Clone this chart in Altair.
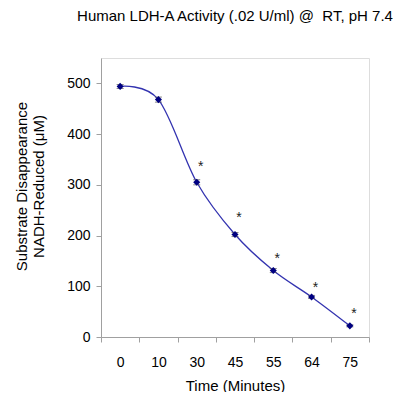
import altair as alt
import pandas as pd

times = ["0", "10", "30", "45", "55", "64", "75"]
nadh = [494, 468, 305, 202, 131, 79, 22]
err = [4, 5, 5, 4, 4, 3, 2]

star_times = ["30", "45", "55", "64", "75"]
star_y = [342, 240, 160, 102, 52]

df = pd.DataFrame({"t": times, "y": nadh, "lo": [v - e for v, e in zip(nadh, err)],
                   "hi": [v + e for v, e in zip(nadh, err)]})
sdf = pd.DataFrame({"t": star_times, "y": star_y, "s": ["*"] * len(star_times)})

FONT = "Liberation Sans"
YTITLE = ["Substrate Disappearance", "NADH-Reduced (μM)"]
XTITLE = "Time (Minutes)"
xscale = alt.Scale(type="band", paddingInner=0, paddingOuter=0, domain=times)
yscale = alt.Scale(domain=[0, 550], nice=False)

xaxis = alt.Axis(labelAngle=0, tickBand="extent",
                 tickSize=5, labelPadding=13, titlePadding=9,
                 labelFontSize=14, titleFontSize=15, labelFont=FONT, titleFont=FONT,
                 labelColor="black", titleColor="black", titleFontWeight="normal",
                 domainColor="#a0a0a0", tickColor="#a0a0a0")
yaxis = alt.Axis(values=[0, 100, 200, 300, 400, 500], grid=False,
                 tickSize=5, labelPadding=6, titlePadding=20, titleY=128,
                 labelFontSize=14, titleFontSize=15, labelFont=FONT, titleFont=FONT,
                 labelColor="black", titleColor="black", titleFontWeight="normal",
                 domainColor="#a0a0a0", tickColor="#a0a0a0")


def X():
    return alt.X("t:O", sort=None, scale=xscale, bandPosition=0.5, title=XTITLE, axis=xaxis)


def Y(field):
    return alt.Y(field, scale=yscale, title=YTITLE, axis=yaxis)


base = alt.Chart(df)
line = base.mark_line(interpolate="cardinal", color="#3333b0", strokeWidth=1.3).encode(x=X(), y=Y("y:Q"))
bars = base.mark_errorbar(ticks=alt.TickConfig(size=7), color="#555555").encode(
    x=X(), y=Y("lo:Q"), y2="hi:Q")
pts = base.mark_point(shape="diamond", filled=True, size=50, color="#000080", opacity=1).encode(
    x=X(), y=Y("y:Q"))
stars = alt.Chart(sdf).mark_text(font=FONT, fontSize=14, color="#222222", dx=4, dy=3,
                                  baseline="middle").encode(
    x=X(), y=Y("y:Q"), text="s:N")

chart = alt.layer(line, bars, pts, stars).properties(
    width=268, height=279,
    title=alt.TitleParams("Human LDH-A Activity (.02 U/ml) @\u00a0 RT, pH 7.4", font=FONT,
                          fontSize=15, fontWeight="normal", color="black", anchor="middle",
                          offset=34),
    autosize=alt.AutoSizeParams(type="none"),
    padding={"left": 93, "top": 50, "right": 24, "bottom": 55},
).configure_view(stroke="#a0a0a0", strokeWidth=1.5).configure(background="white")

chart.save("out.html", embed_options={"renderer": "svg", "actions": False})
